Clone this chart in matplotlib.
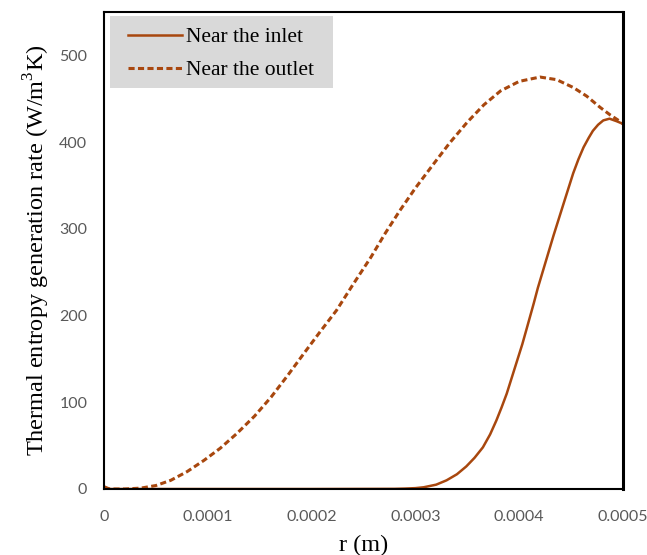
import numpy as np
import matplotlib.pyplot as plt
from matplotlib.patches import Rectangle

plt.rcParams['mathtext.fontset'] = 'custom'
plt.rcParams['mathtext.rm'] = 'Liberation Serif'

# radial position (m) and thermal entropy generation rate (W/m3K)
inlet_r = [0, 0.000006, 0.0001, 0.0002, 0.00028, 0.00029, 0.0003, 0.000308,
           0.00032, 0.00033, 0.00034, 0.000349, 0.000357, 0.000365, 0.000372,
           0.000378, 0.000383, 0.000388, 0.000393, 0.000398, 0.000403,
           0.000407, 0.000414, 0.000418, 0.000423, 0.000433, 0.000443,
           0.000452, 0.000457, 0.000462, 0.000467, 0.000471, 0.000476,
           0.000481, 0.000487, 0.000494, 0.0005]
inlet_s = [3, 0, 0, 0, 0.2, 0.5, 1, 2, 5, 10, 17, 26, 36, 48, 63, 79, 94,
           110, 129, 148, 167, 184, 214, 232, 252, 292, 330, 364, 380, 394,
           405, 413, 420, 425, 427, 424, 421]

outlet_r = [0, 0.00002, 0.0000354, 0.00005, 0.0000643, 0.00008, 0.0000963,
            0.000112, 0.000128, 0.000145, 0.000161, 0.000177, 0.000193,
            0.000208, 0.000224, 0.00024, 0.000257, 0.000271, 0.000285, 0.0003,
            0.000317, 0.000333, 0.00035, 0.000366, 0.000382, 0.0004, 0.00042,
            0.000436, 0.000452, 0.000465, 0.000478, 0.000488, 0.000497, 0.0005]
outlet_s = [0, 0, 1, 4, 10, 20, 33, 47, 64, 84, 106, 131, 157, 181, 206, 236,
            267, 295, 321, 347, 374, 399, 423, 443, 459, 470, 475, 472, 463,
            453, 440, 431, 424, 421]

x_ticks = [0, 0.0001, 0.0002, 0.0003, 0.0004, 0.0005]
x_labels = ['0', '0.0001', '0.0002', '0.0003', '0.0004', '0.0005']
y_ticks = [0, 100, 200, 300, 400, 500]

color = '#a8470e'
serif = 'Liberation Serif'

fig = plt.figure(figsize=(6.47, 5.55), dpi=100)
ax = fig.add_axes([104/647, 66/555, 519/647, 477/555])

ax.plot(inlet_r, inlet_s, color=color, lw=1.8, label='Near the inlet')
ax.plot(outlet_r, outlet_s, color=color, lw=2.2, linestyle=(0, (2.0, 1.1)),
        label='Near the outlet')

ax.set_xlim(0, 0.0005)
ax.set_ylim(0, 550)
ax.set_xticks(x_ticks)
ax.set_xticklabels(x_labels)
ax.set_yticks(y_ticks)
ax.tick_params(length=0, pad=12, labelsize=11.5, labelcolor='#595959')
ax.tick_params(axis='x', pad=15)
for lbl in ax.get_xticklabels() + ax.get_yticklabels():
    lbl.set_fontfamily('Lato')

for side in ['left', 'top', 'right', 'bottom']:
    ax.spines[side].set_color('black')
    ax.spines[side].set_linewidth(1.5)
ax.spines['right'].set_linewidth(2.2)

ax.set_xlabel('r (m)', fontfamily=serif, fontsize=17.5, labelpad=8)
ax.set_ylabel('Thermal entropy generation rate (W/m$^{\\mathrm{3}}$K)',
              fontfamily=serif, fontsize=17.5, labelpad=5)

# grey legend box
ax.add_patch(Rectangle((6/519, 1 - 76/477), 223/519, 72/477,
                       transform=ax.transAxes, facecolor='#d9d9d9',
                       edgecolor='none', zorder=3))
leg = ax.legend(loc='upper left', bbox_to_anchor=(24/519, 1 - 15/477),
                borderaxespad=0, borderpad=0, frameon=False,
                handlelength=2.5, handletextpad=0.2, labelspacing=0.62,
                prop={'family': serif, 'size': 15.5})
leg.set_zorder(4)

fig.savefig('out.png', dpi=100)
